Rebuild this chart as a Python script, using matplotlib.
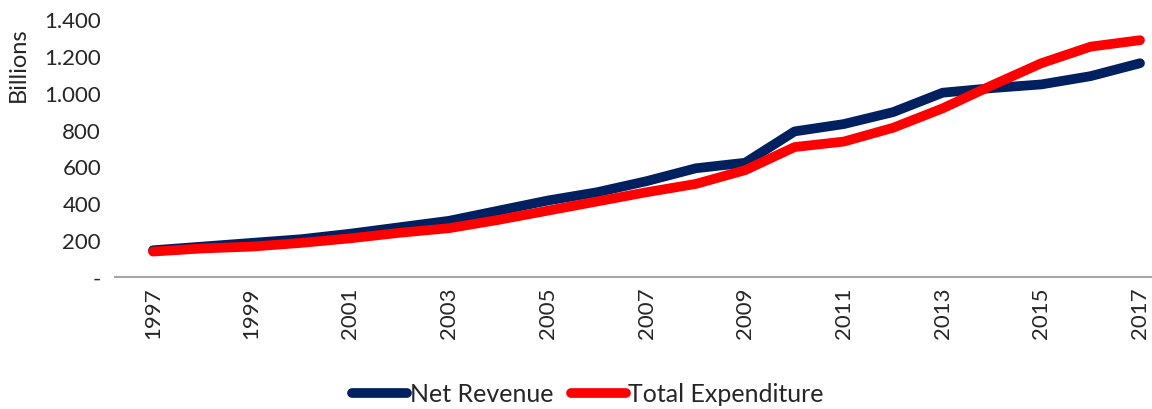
import matplotlib.pyplot as plt

# Daten
years = list(range(1997, 2018))
net_revenue = [145, 165, 185, 205, 235, 270, 305, 360, 415, 460, 520, 590, 620,
               790, 830, 895, 1000, 1025, 1045, 1090, 1160]
total_expenditure = [138, 155, 165, 185, 210, 240, 265, 310, 360, 410, 460, 505, 580,
                     705, 735, 810, 915, 1040, 1160, 1250, 1285]
y_ticks = [0, 200, 400, 600, 800, 1000, 1200, 1400]
y_tick_labels = ['-', '200', '400', '600', '800', '1.000', '1.200', '1.400']

plt.rcParams['font.family'] = ['Lato', 'DejaVu Sans']
text_color = '#262626'

fig = plt.figure(figsize=(11.52, 4.10), dpi=100)
ax = fig.add_axes([115 / 1152, 1 - 278 / 410, 1 - 115 / 1152, (278 - 20) / 410])

ax.plot(years, net_revenue, color='#002060', linewidth=7,
        solid_capstyle='round', solid_joinstyle='round', label='Net Revenue')
ax.plot(years, total_expenditure, color='#FF0000', linewidth=7,
        solid_capstyle='round', solid_joinstyle='round', label='Total Expenditure')

ax.set_ylim(0, 1400)
ax.set_xlim(1997 - 38 / 49.35, 2017 + 12 / 49.35)
ax.set_yticks(y_ticks)
ax.set_yticklabels(y_tick_labels, fontsize=16, color=text_color)
ax.set_xticks(years[::2])
ax.set_xticklabels([str(y) for y in years[::2]], rotation=90, fontsize=16, color=text_color)
ax.tick_params(axis='both', length=0)
ax.tick_params(axis='y', pad=10)
ax.tick_params(axis='x', pad=7)

for side in ['top', 'right', 'left']:
    ax.spines[side].set_visible(False)
ax.spines['bottom'].set_color('#A6A6A6')
ax.spines['bottom'].set_linewidth(1.5)

fig.text(18 / 1152, 1 - 65 / 410, 'Billions', rotation=90, ha='center', va='center',
         fontsize=17, color=text_color)

fig.legend(loc='center', bbox_to_anchor=(588 / 1152, 1 - 395 / 410), ncol=2, frameon=False,
           fontsize=18, handlelength=2.2, handletextpad=0.1, columnspacing=0.7,
           labelcolor=text_color)

fig.savefig('out.png', dpi=100)
